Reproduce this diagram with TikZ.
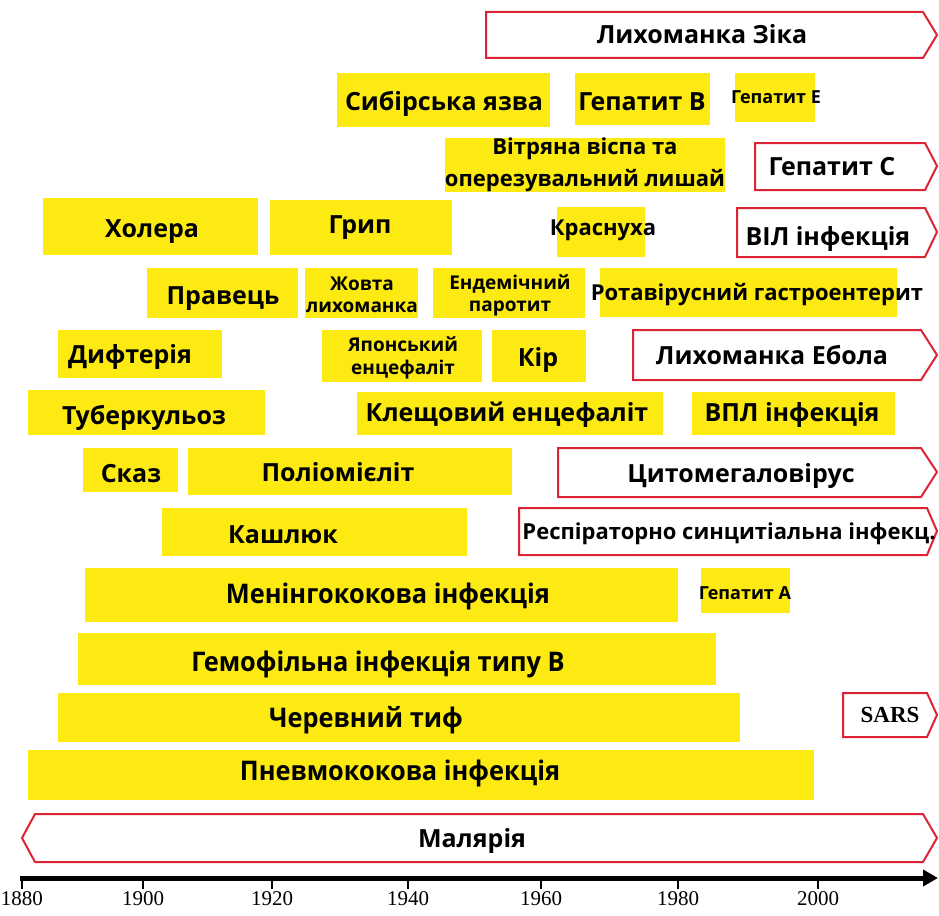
\documentclass[tikz,border=0pt]{standalone}
\usepackage{fontspec}
\setmainfont{Open Sans}
\newfontfamily\narrowfont{Open Sans}[FakeStretch=0.94]
\newfontfamily\serifbold{Liberation Serif}
\definecolor{baryellow}{RGB}{252,234,18}
\definecolor{tagred}{RGB}{222,36,52}
\usetikzlibrary{arrows.meta}

\begin{document}
\begin{tikzpicture}[x=1pt, y=-1pt,
    bar/.style={fill=baryellow},
    tag/.style={draw=tagred, line width=2pt, fill=white, line join=miter},
    lbl/.style={font=\bfseries\fontsize{25}{28}\selectfont, inner sep=0pt, text height=18pt, text depth=0pt},
    midlbl/.style={font=\bfseries\fontsize{22}{26}\selectfont, inner sep=0pt, text height=15.7pt, text depth=0pt},
    smalllbl/.style={font=\bfseries\fontsize{18}{22}\selectfont, inner sep=0pt, text height=12.9pt, text depth=0pt},
    twoline/.style 2 args={font=\bfseries\fontsize{#1}{#2}\selectfont, inner sep=0pt, align=center},
    narrowlbl/.style={font=\narrowfont\bfseries\fontsize{27}{30}\selectfont, inner sep=0pt, text height=19.3pt, text depth=0pt},
    year/.style={font=\serifbold\fontsize{21}{24}\selectfont, inner sep=0pt}]
  \useasboundingbox (0,0) rectangle (939,915);

  % open-ended (red) periods
  \draw[tag] (486,12) -- (923,12) -- (937,35) -- (923,58) -- (486,58) -- cycle;
  \node[lbl] (zika) at (702,35) {Лихоманка Зіка};
  \draw[tag] (755,143) -- (925,143) -- (937,166) -- (925,190) -- (755,190) -- cycle;
  \node[lbl] (hepc) at (832,166) {Гепатит С};
  \draw[tag] (737,208) -- (925,208) -- (937,232) -- (925,257) -- (737,257) -- cycle;
  \node[lbl] (hiv) at (828,236) {ВІЛ інфекція};
  \draw[tag] (633,330) -- (921,330) -- (937,355) -- (921,380) -- (633,380) -- cycle;
  \node[lbl] (ebola) at (772,355) {Лихоманка Ебола};
  \draw[tag] (558,448) -- (921,448) -- (937,472) -- (921,497) -- (558,497) -- cycle;
  \node[lbl] (cmv) at (741,473) {Цитомегаловірус};
  \draw[tag] (519,508) -- (927,508) -- (937,531) -- (927,555) -- (519,555) -- cycle;
  \node[midlbl] (rsv) at (729,532) {Респіраторно синцитіальна інфекц.};
  \draw[tag] (843,693) -- (927,693) -- (937,715) -- (927,737) -- (843,737) -- cycle;
  \node[year, font=\serifbold\bfseries\fontsize{23}{26}\selectfont, text height=15pt, text depth=0pt] (sars) at (890,715) {SARS};
  \draw[tag] (22,838) -- (35,814) -- (923,814) -- (937,838) -- (923,862) -- (35,862) -- cycle;
  \node[lbl] (malaria) at (472,838) {Малярія};

  % yellow periods
  \fill[bar] (337,73) rectangle (550,127);
  \node[lbl] (anthrax) at (444,102) {Сибірська язва};
  \fill[bar] (575,73) rectangle (710,125);
  \node[lbl] (hepb) at (642,102) {Гепатит В};
  \fill[bar] (735,73) rectangle (815,122);
  \node[smalllbl] (hepe) at (776,97) {Гепатит Е};
  \fill[bar] (445,138) rectangle (725,192);
  \node[twoline={22}{32}] (varicella) at (585,165) {Вітряна віспа та\\оперезувальний лишай};

  \fill[bar] (43,198) rectangle (258,255);
  \node[lbl] (cholera) at (152,228) {Холера};
  \fill[bar] (270,200) rectangle (452,255);
  \node[lbl] (flu) at (360,224) {Грип};
  \fill[bar] (557,207) rectangle (645,257);
  \node[midlbl] (rubella) at (603,228) {Краснуха};

  \fill[bar] (147,268) rectangle (298,318);
  \node[lbl] (tetanus) at (223,295) {Правець};
  \fill[bar] (305,268) rectangle (418,318);
  \node[twoline={19}{22}] (yellowf) at (362,295) {Жовта\\лихоманка};
  \fill[bar] (433,268) rectangle (585,318);
  \node[twoline={19}{22}] (mumps) at (510,295) {Ендемічний\\паротит};
  \fill[bar] (600,268) rectangle (897,317);
  \node[midlbl] (rota) at (757,293) {Ротавірусний гастроентерит};

  \fill[bar] (58,330) rectangle (222,378);
  \node[lbl] (diphth) at (130,354) {Дифтерія};
  \fill[bar] (322,330) rectangle (482,382);
  \node[twoline={19}{23}] (japenc) at (403,358) {Японський\\енцефаліт};
  \fill[bar] (492,330) rectangle (586,382);
  \node[lbl] (measles) at (538,357) {Кір};

  \fill[bar] (28,390) rectangle (265,435);
  \node[lbl] (tb) at (144,415) {Туберкульоз};
  \fill[bar] (357,392) rectangle (663,435);
  \node[lbl] (tbe) at (507,412) {Клещовий енцефаліт};
  \fill[bar] (692,392) rectangle (895,435);
  \node[lbl] (hpv) at (792,412) {ВПЛ інфекція};

  \fill[bar] (83,448) rectangle (178,492);
  \node[lbl] (rabies) at (131,473) {Сказ};
  \fill[bar] (188,448) rectangle (512,495);
  \node[lbl] (polio) at (338,472) {Поліомієліт};
  \fill[bar] (162,508) rectangle (467,556);
  \node[lbl] (pertussis) at (283,534) {Кашлюк};

  \fill[bar] (85,568) rectangle (678,622);
  \node[narrowlbl] (mening) at (388,594) {Менінгококова інфекція};
  \fill[bar] (701,568) rectangle (790,613);
  \node[smalllbl] (hepa) at (745,593) {Гепатит А};
  \fill[bar] (78,633) rectangle (716,685);
  \node[narrowlbl] (hib) at (378,662) {Гемофільна інфекція типу В};
  \fill[bar] (58,693) rectangle (740,742);
  \node[narrowlbl] (typhoid) at (366,718) {Черевний тиф};
  \fill[bar] (28,750) rectangle (814,800);
  \node[narrowlbl] (pneumo) at (400,771) {Пневмококова інфекція};

  % time axis
  \coordinate (axstart) at (20,878);
  \coordinate (axend) at (938,878);
  \draw[line width=5pt, -{Triangle[length=15pt,width=16pt]}] (axstart) -- (axend);
  \foreach \yr/\xx in {1880/22,1900/143,1920/272,1940/408,1960/541,1980/678,2000/818}
    \draw[line width=1.4pt] (\xx,878) -- (\xx,889) node[year, below=2pt] {\yr};
\end{tikzpicture}
\end{document}
